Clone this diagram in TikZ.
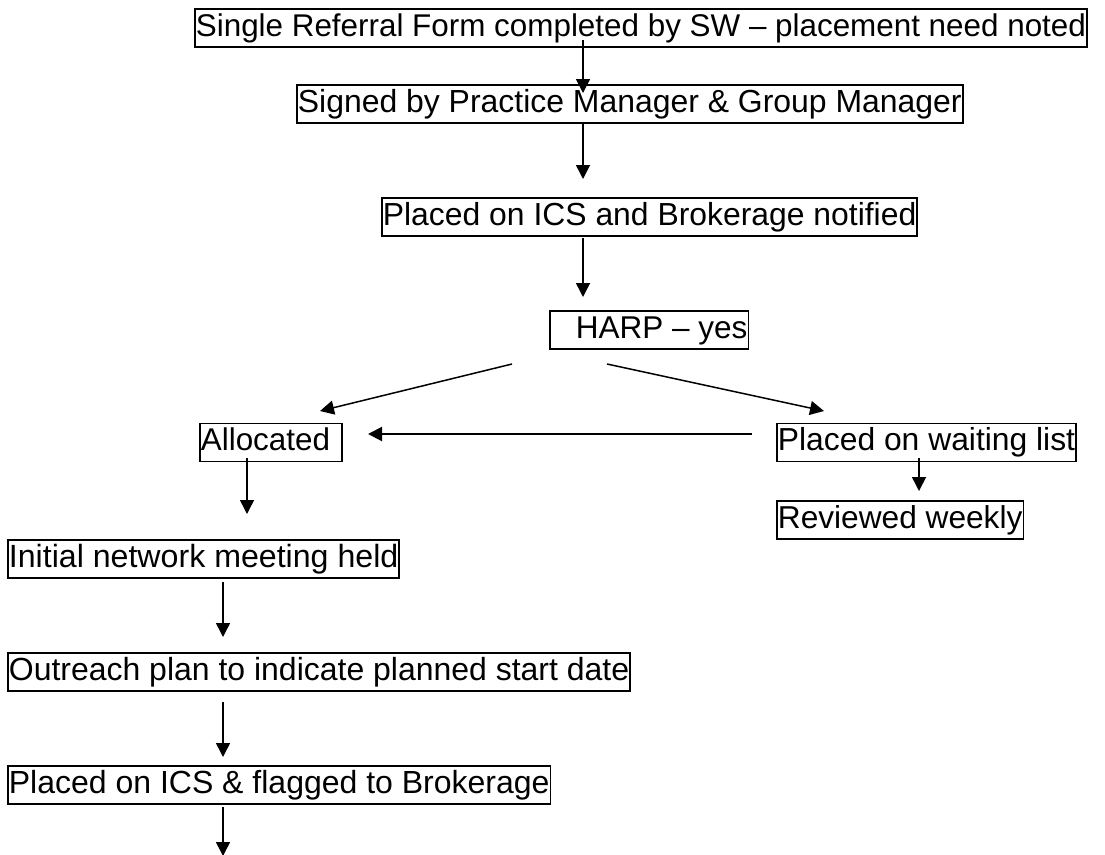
\documentclass[tikz,border=0pt]{standalone}
\usepackage{fontspec}
\setmainfont{Liberation Sans}
\usetikzlibrary{arrows.meta}
\begin{document}
\begin{tikzpicture}[x=1pt,y=-1pt,
  fs/.style={font=\fontsize{#1}{32}\selectfont},
  stepbox/.style={draw, line width=1.8pt, anchor=west, fs=31.95,
    inner xsep=1pt, inner ysep=4pt, text height=23pt, text depth=7pt},
  arr/.style={line width=1.5pt, -{Triangle[length=14pt,width=14pt]}}]
\useasboundingbox (0,0) rectangle (1105,854);

% process boxes
\node[stepbox, fs=31.4]  (b1)  at (194,28)    {Single Referral Form completed by SW – placement need noted};
\node[stepbox, fs=31.93] (b2)  at (296,104)   {Signed by Practice Manager \& Group Manager};
\node[stepbox, fs=31.88] (b3)  at (381,217)   {Placed on ICS and Brokerage notified};
\node[stepbox, fs=31.5]  (b4)  at (549,330)   {\hspace*{25pt}HARP – yes};
\node[stepbox, fs=31.4]  (b5)  at (199,442.5) {Allocated\hspace*{11pt}};
\node[stepbox, fs=31.83] (b6)  at (776,442.5) {Placed on waiting list};
\node[stepbox, fs=31.66] (b7)  at (776,520)   {Reviewed weekly};
\node[stepbox, fs=32.14] (b8)  at (7,559)     {Initial network meeting held};
\node[stepbox, fs=31.97] (b9)  at (7,672)     {Outreach plan to indicate planned start date};
\node[stepbox, fs=31.99] (b10) at (7,785)     {Placed on ICS \& flagged to Brokerage};

% connector end points
\coordinate (s1) at (583,40);   \coordinate (e1) at (583,93);
\coordinate (s2) at (583,123);  \coordinate (e2) at (583,179);
\coordinate (s3) at (583,238);  \coordinate (e3) at (583,297);
\coordinate (sl) at (512,364);  \coordinate (el) at (320,411);
\coordinate (sr) at (607,364);  \coordinate (er) at (824,411);
\coordinate (sh) at (752,434);  \coordinate (eh) at (368,434);
\coordinate (sw) at (919,458);  \coordinate (ew) at (919,491);
\coordinate (sa) at (247,458);  \coordinate (ea) at (247,514);
\coordinate (s8) at (223,582);  \coordinate (e8) at (223,637);
\coordinate (s9) at (223,702);  \coordinate (e9) at (223,757);
\coordinate (s10) at (223,807); \coordinate (e10) at (223,856);

% connectors
\draw[arr] (s1) -- (e1);
\draw[arr] (s2) -- (e2);
\draw[arr] (s3) -- (e3);
\draw[arr] (sl) -- (el);
\draw[arr] (sr) -- (er);
\draw[arr, line width=2pt] (sh) -- (eh);
\draw[arr] (sw) -- (ew);
\draw[arr] (sa) -- (ea);
\draw[arr] (s8) -- (e8);
\draw[arr] (s9) -- (e9);
\draw[arr] (s10) -- (e10);
\end{tikzpicture}
\end{document}
